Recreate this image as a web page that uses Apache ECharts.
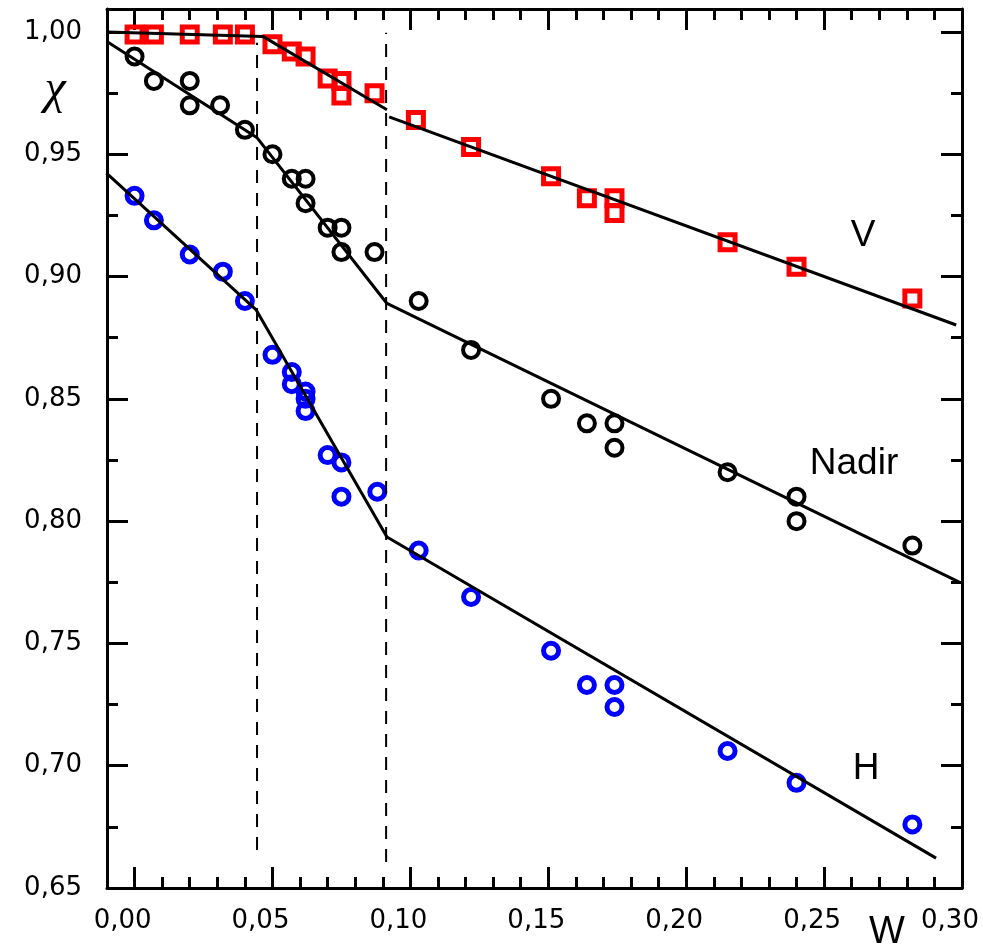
<!DOCTYPE html>
<html><head><meta charset="utf-8">
<script src="https://cdn.jsdelivr.net/npm/echarts@6/dist/echarts.min.js"></script>
<style>html,body{margin:0;padding:0;background:#fff}#c{width:983px;height:947px}</style>
</head><body><div id="c"></div>
<script>
// ---- data ----
const wV   = [0.000,0.007,0.020,0.032,0.040,0.050,0.057,0.062,0.070,0.075,0.075,0.087,0.102,0.122,0.151,0.164,0.174,0.174,0.215,0.240,0.282];
const chiV = [0.999,0.999,0.999,0.999,0.999,0.995,0.992,0.990,0.981,0.980,0.974,0.975,0.964,0.953,0.941,0.932,0.932,0.926,0.914,0.904,0.891];

const wN   = [0.000,0.007,0.020,0.020,0.031,0.040,0.050,0.057,0.062,0.062,0.070,0.075,0.075,0.087,0.103,0.122,0.151,0.164,0.174,0.174,0.215,0.240,0.240,0.282];
const chiN = [0.99,0.98,0.98,0.97,0.97,0.96,0.95,0.94,0.94,0.93,0.92,0.92,0.91,0.91,0.89,0.87,0.85,0.84,0.84,0.83,0.82,0.81,0.80,0.79];

const wH   = [0.000,0.007,0.020,0.032,0.040,0.050,0.057,0.057,0.062,0.062,0.062,0.070,0.075,0.075,0.088,0.103,0.122,0.151,0.164,0.174,0.174,0.215,0.240,0.282];
const chiH = [0.933,0.923,0.909,0.902,0.890,0.868,0.861,0.856,0.853,0.850,0.845,0.827,0.824,0.810,0.812,0.788,0.769,0.747,0.733,0.733,0.724,0.706,0.693,0.676];

// piecewise fit lines (vertices; null = break)
const fitVw   = [-0.0102, 0.0465, 0.0915, null, 0.0923, 0.2979];
const fitVchi = [1.000,   0.9982, 0.9682, null, 0.9653, 0.8802];
const fitNw   = [-0.0102, 0.0443, 0.0915, 0.2990];
const fitNchi = [0.9962,  0.9569, 0.8890, 0.7751];
const fitHw   = [-0.0102, 0.0440, 0.0915, 0.2906];
const fitHchi = [0.9423,  0.8865, 0.7935, 0.6622];

// dashed vertical boundaries
const dash1w = [0.0444, 0.0444], dash1chi = [0.6655, 0.9956];
const dash2w = [0.0912, 0.0912], dash2chi = [0.6606, 0.9997];

// axes
const xMin = -0.01, xMax = 0.30;
const yMin = 0.65,  yMax = 1.0094;
const xMajorTicks = [0.00,0.05,0.10,0.15,0.20,0.25,0.30];
const xMinorTicks = [0.01,0.02,0.03,0.04,0.06,0.07,0.08,0.09,0.11,0.12,0.13,0.14,0.16,0.17,0.18,0.19,0.21,0.22,0.23,0.24,0.26,0.27,0.28,0.29];
const yMajorTicks = [0.65,0.70,0.75,0.80,0.85,0.90,0.95,1.00];
const yMinorTicks = [0.675,0.725,0.775,0.825,0.875,0.925,0.975];

const zip = (a,b) => a.map((v,i) => v === null ? [null,null] : [v, b[i]]);
const fmt = v => v.toFixed(2).replace('.', ',');
const LAB = {color:'#000', fontFamily:'DejaVu Sans', fontSize:26};

function xAx(pos, ticks, len, label, line){
  return {type:'value', position:pos, min:xMin, max:xMax, gridIndex:0,
    axisLine:{show:line, onZero:false, lineStyle:{color:'#000', width:3}},
    axisTick:{show:true, inside:true, length:len, customValues:ticks, lineStyle:{color:'#000', width:3}},
    axisLabel:{show:label, customValues:ticks, formatter:fmt, margin:20, padding:[0,24,0,0], ...LAB},
    splitLine:{show:false}};
}
function yAx(pos, ticks, len, label, line){
  return {type:'value', position:pos, min:yMin, max:yMax, gridIndex:0,
    axisLine:{show:line, onZero:false, lineStyle:{color:'#000', width:3}},
    axisTick:{show:true, inside:true, length:len, customValues:ticks, lineStyle:{color:'#000', width:3}},
    axisLabel:{show:label, customValues:ticks, formatter:fmt, margin:25, ...LAB},
    splitLine:{show:false}};
}

const chart = echarts.init(document.getElementById('c'), null, {renderer:'canvas'});
const lineS = (name, w, c, style) => ({type:'line', name, data:zip(w,c), symbol:'none', connectNulls:false,
  lineStyle:style, z:5, silent:true});

chart.setOption({
  animation:false,
  backgroundColor:'#ffffff',
  grid:{left:107, right:21, top:9, bottom:59},
  xAxis:[
    xAx('bottom', xMajorTicks, 21, true, true),
    xAx('bottom', xMinorTicks, 11, false, false),
    xAx('top', xMajorTicks, 21, false, true),
    xAx('top', xMinorTicks, 11, false, false)
  ],
  yAxis:[
    yAx('left', yMajorTicks, 21, true, true),
    yAx('left', yMinorTicks, 11, false, false),
    yAx('right', yMajorTicks, 21, false, true),
    yAx('right', yMinorTicks, 11, false, false)
  ],
  series:[
    {type:'scatter', name:'V', data:zip(wV,chiV), symbol:'rect', symbolSize:15,
      itemStyle:{color:'rgba(0,0,0,0)', borderColor:'#ff0000', borderWidth:5, opacity:1}, z:2, silent:true},
    {type:'scatter', name:'Nadir', data:zip(wN,chiN), symbol:'circle', symbolSize:16,
      itemStyle:{color:'rgba(0,0,0,0)', borderColor:'#000000', borderWidth:4, opacity:1}, z:2, silent:true},
    {type:'scatter', name:'H', data:zip(wH,chiH), symbol:'circle', symbolSize:15,
      itemStyle:{color:'rgba(0,0,0,0)', borderColor:'#0000ff', borderWidth:5, opacity:1}, z:2, silent:true},
    lineS('fitV', fitVw, fitVchi, {color:'#000', width:3}),
    lineS('fitN', fitNw, fitNchi, {color:'#000', width:3}),
    lineS('fitH', fitHw, fitHchi, {color:'#000', width:3}),
    lineS('dash1', dash1w, dash1chi, {color:'#000', width:2, type:[13,10]}),
    lineS('dash2', dash2w, dash2chi, {color:'#000', width:2, type:[13,10]})
  ],
  graphic:[
    {type:'text', x:863, y:236, style:{text:'V', font:'37px "Liberation Sans"', fill:'#000', align:'center', verticalAlign:'middle'}},
    {type:'text', x:854, y:464, style:{text:'Nadir', font:'37px "Liberation Sans"', fill:'#000', align:'center', verticalAlign:'middle'}},
    {type:'text', x:866, y:769, style:{text:'H', font:'37px "Liberation Sans"', fill:'#000', align:'center', verticalAlign:'middle'}},
    {type:'text', x:887, y:933, style:{text:'W', font:'38px "Liberation Sans"', fill:'#000', align:'center', verticalAlign:'middle'}},
    {type:'text', x:55, y:90, style:{text:'χ', font:'italic 48px "Liberation Serif"', fill:'#000', align:'center', verticalAlign:'middle'}}
  ]
});
</script></body></html>
